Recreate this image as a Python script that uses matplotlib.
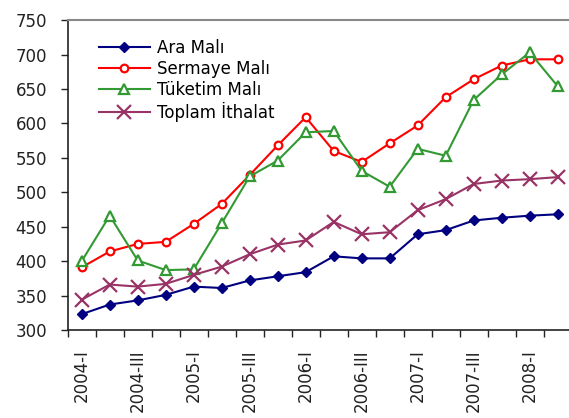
import matplotlib
matplotlib.use("Agg")
import matplotlib.pyplot as plt

plt.rcParams['font.family'] = ['DejaVu Sans']

quarters = ["2004-I", "2004-II", "2004-III", "2004-IV",
            "2005-I", "2005-II", "2005-III", "2005-IV",
            "2006-I", "2006-II", "2006-III", "2006-IV",
            "2007-I", "2007-II", "2007-III", "2007-IV",
            "2008-I", "2008-II"]

ara_mali = [323, 337, 343, 351, 363, 361, 372, 378, 384, 407, 404, 404,
            439, 445, 459, 463, 466, 468]
sermaye_mali = [391, 414, 425, 428, 454, 483, 525, 568, 609, 560, 544, 571,
                597, 638, 664, 684, 693, 693]
tuketim_mali = [400, 466, 401, 387, 388, 455, 523, 546, 587, 589, 531, 508,
                563, 553, 634, 671, 703, 654]
toplam_ithalat = [344, 366, 363, 367, 380, 392, 410, 424, 430, 457, 439, 442,
                  474, 490, 512, 517, 519, 522]

fig = plt.figure(figsize=(5.69, 4.18), dpi=100)
ax = fig.add_axes([0.119, 0.2105, 0.8857, 0.7415])

x = list(range(len(quarters)))
ax.plot(x, ara_mali, color="#000080", lw=1.5, marker="D", ms=5.5,
        mfc="#000080", mec="#000080", label="Ara Malı")
ax.plot(x, sermaye_mali, color="#FF0000", lw=1.5, marker="o", ms=5.5,
        mfc="white", mec="#FF0000", mew=1.6, label="Sermaye Malı")
ax.plot(x, tuketim_mali, color="#339933", lw=1.5, marker="^", ms=7,
        mfc="white", mec="#339933", mew=1.6, label="Tüketim Malı")
ax.plot(x, toplam_ithalat, color="#993366", lw=1.5, marker="x", ms=10,
        mec="#993366", mew=1.6, label="Toplam İthalat")

ax.set_xlim(-0.5, len(quarters) - 0.5)
ax.set_ylim(300, 750)
ax.set_yticks(range(300, 751, 50))
ax.tick_params(axis="y", labelsize=12, length=5, width=1, direction="out",
               colors="#222222", pad=10)

# category boundaries carry the ticks; every other quarter is labelled
ax.set_xticks([i - 0.5 for i in range(len(quarters) + 1)])
ax.set_xticklabels([])
ax.set_xticks(x[::2], minor=True)
ax.set_xticklabels(quarters[::2], minor=True, rotation=90, fontsize=12,
                   color="#222222")
ax.tick_params(axis="x", which="major", length=5, width=1, direction="out",
               colors="#222222")
ax.tick_params(axis="x", which="minor", length=0, pad=14)

for side in ("left", "bottom"):
    ax.spines[side].set_color("#222222")
    ax.spines[side].set_linewidth(1.2)
ax.spines["top"].set_color("#888888")
ax.spines["top"].set_linewidth(1.5)
ax.spines["right"].set_visible(False)

leg = ax.legend(loc="upper left", bbox_to_anchor=(0.048, 0.962), frameon=False,
                fontsize=12, handlelength=3.1, labelspacing=0.18,
                handletextpad=0.4, borderaxespad=0)

fig.savefig("out.png", dpi=100)
